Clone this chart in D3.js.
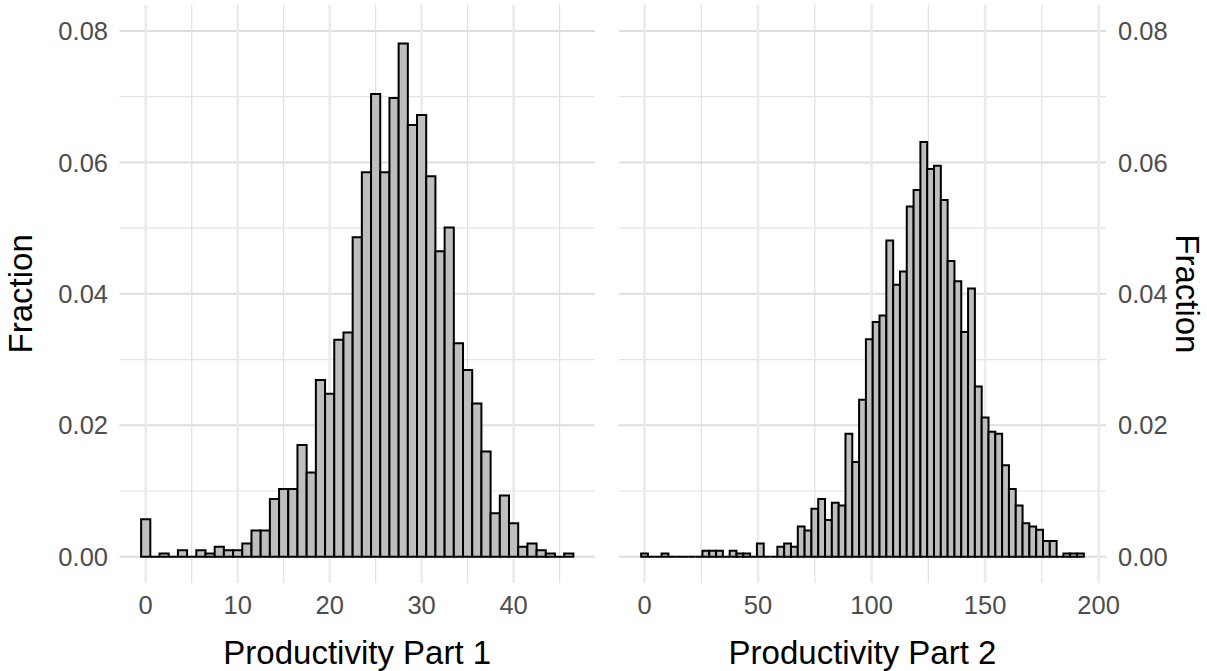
<!DOCTYPE html>
<meta charset="utf-8">
<style>
body { margin: 0; background: #fff; }
text { font-family: "Liberation Sans", Arial, sans-serif; }
.tick-label { fill: #4d4d4d; font-size: 25.5px; }
.axis-title { fill: #000; font-size: 33px; }
</style>
<svg width="1207" height="671"></svg>
<script src="https://cdn.jsdelivr.net/npm/d3@7"></script>
<script>

// fraction per bin, part 1: bins of width 1 centred on 0..46
var part1Centers = d3.range(0, 47);
var part1Fraction = [
  0.0057, 0, 0.0005, 0, 0.001, 0, 0.001, 0.0005, 0.0015, 0.001,
  0.001, 0.002, 0.004, 0.004, 0.0088, 0.0103, 0.0103, 0.017, 0.0128, 0.0269,
  0.0248, 0.033, 0.0341, 0.0486, 0.0585, 0.0704, 0.0585, 0.0698, 0.0781, 0.0657,
  0.0672, 0.0579, 0.0465, 0.0501, 0.0325, 0.0284, 0.0233, 0.016, 0.0066, 0.0093,
  0.0051, 0.0015, 0.002, 0.001, 0.0005, 0, 0.0005
];
var part1Width = 1;

// part 2: bins of width 3 centred on 0, 3, ..., 192
var part2Centers = d3.range(0, 193, 3);
var part2Fraction = [
  0.0005, 0, 0, 0.0005, 0, 0, 0, 0, 0, 0.0009,
  0.0009, 0.0009, 0, 0.0009, 0.0005, 0.0005, 0, 0.002, 0, 0,
  0.0015, 0.002, 0.0015, 0.0046, 0.004, 0.0073, 0.0088, 0.0056, 0.0082, 0.0078,
  0.0187, 0.0144, 0.0239, 0.0331, 0.0357, 0.0367, 0.0481, 0.0414, 0.0434, 0.0533,
  0.0558, 0.0631, 0.059, 0.0595, 0.0543, 0.045, 0.0419, 0.0342, 0.0408, 0.0259,
  0.0212, 0.019, 0.0187, 0.0139, 0.0103, 0.0078, 0.0051, 0.0046, 0.0041, 0.0024,
  0.0024, 0, 0.0005, 0.0005, 0.0005
];
var part2Width = 3;

var yTicks = [0, 0.02, 0.04, 0.06, 0.08];
var yMinor = [0.01, 0.03, 0.05, 0.07];
var part1Ticks = [0, 10, 20, 30, 40];
var part1Minor = [5, 15, 25, 35, 45];
var part2Ticks = [0, 50, 100, 150, 200];
var part2Minor = [25, 75, 125, 175];

var svg = d3.select("svg");
var plotTop = 4.7, plotBottom = 583;

var y = d3.scaleLinear().domain([-0.004, 0.084]).range([plotBottom, plotTop]);

function expand(lo, hi) {
  var pad = (hi - lo) * 0.05;
  return [lo - pad, hi + pad];
}

function panel(opts) {
  var x = d3.scaleLinear()
      .domain(expand(opts.centers[0] - opts.width / 2, opts.centers[opts.centers.length - 1] + opts.width / 2))
      .range([opts.left, opts.right]);
  var g = svg.append("g");

  // grid
  g.selectAll(".hminor").data(yMinor).enter().append("line")
      .attr("x1", opts.left).attr("x2", opts.right)
      .attr("y1", y).attr("y2", y)
      .attr("stroke", "#e4e4e4").attr("stroke-width", 1.2);
  g.selectAll(".vminor").data(opts.minor).enter().append("line")
      .attr("x1", x).attr("x2", x)
      .attr("y1", plotTop).attr("y2", plotBottom)
      .attr("stroke", "#e0e0e0").attr("stroke-width", 1.2);
  g.selectAll(".hmajor").data(yTicks).enter().append("line")
      .attr("x1", opts.left).attr("x2", opts.right)
      .attr("y1", y).attr("y2", y)
      .attr("stroke", "#dedede").attr("stroke-width", 2);
  g.selectAll(".vmajor").data(opts.ticks).enter().append("line")
      .attr("x1", x).attr("x2", x)
      .attr("y1", plotTop).attr("y2", plotBottom)
      .attr("stroke", "#ebebeb").attr("stroke-width", 2.6);

  // bars (zero bins still draw their outline on the baseline)
  g.selectAll(".bar").data(opts.values).enter().append("path")
      .attr("d", function(d, i) {
        var x0 = x(opts.centers[i] - opts.width / 2),
            x1 = x(opts.centers[i] + opts.width / 2),
            y0 = y(0), y1 = y(d);
        return "M" + x0 + "," + y0 + "L" + x0 + "," + y1 + "L" + x1 + "," + y1 + "L" + x1 + "," + y0 + "Z";
      })
      .attr("fill", "#bebebe")
      .attr("stroke", "#000")
      .attr("stroke-width", 2)
      .attr("stroke-linejoin", "miter");

  // x tick labels
  g.selectAll(".xl").data(opts.ticks).enter().append("text")
      .attr("class", "tick-label")
      .attr("x", x).attr("y", 614)
      .attr("text-anchor", "middle")
      .text(function(d) { return d; });

  g.append("text")
      .attr("class", "axis-title")
      .attr("x", (opts.left + opts.right) / 2).attr("y", 664)
      .attr("text-anchor", "middle")
      .text(opts.title);

  // y tick labels
  var yl = g.selectAll(".yl").data(yTicks).enter().append("text")
      .attr("class", "tick-label")
      .attr("y", y).attr("dy", "0.36em")
      .text(d3.format(".2f"));
  if (opts.side === "left") {
    yl.attr("x", 108).attr("text-anchor", "end");
    g.append("text")
        .attr("class", "axis-title")
        .attr("transform", "translate(32," + (plotTop + plotBottom) / 2 + ") rotate(-90)")
        .attr("text-anchor", "middle")
        .text("Fraction");
  } else {
    yl.attr("x", 1118).attr("text-anchor", "start");
    g.append("text")
        .attr("class", "axis-title")
        .attr("transform", "translate(1176," + (plotTop + plotBottom) / 2 + ") rotate(90)")
        .attr("text-anchor", "middle")
        .text("Fraction");
  }
}

panel({centers: part1Centers, values: part1Fraction, width: part1Width,
       ticks: part1Ticks, minor: part1Minor, left: 119.5, right: 595,
       title: "Productivity Part 1", side: "left"});
panel({centers: part2Centers, values: part2Fraction, width: part2Width,
       ticks: part2Ticks, minor: part2Minor, left: 619, right: 1106,
       title: "Productivity Part 2", side: "right"});

</script>
